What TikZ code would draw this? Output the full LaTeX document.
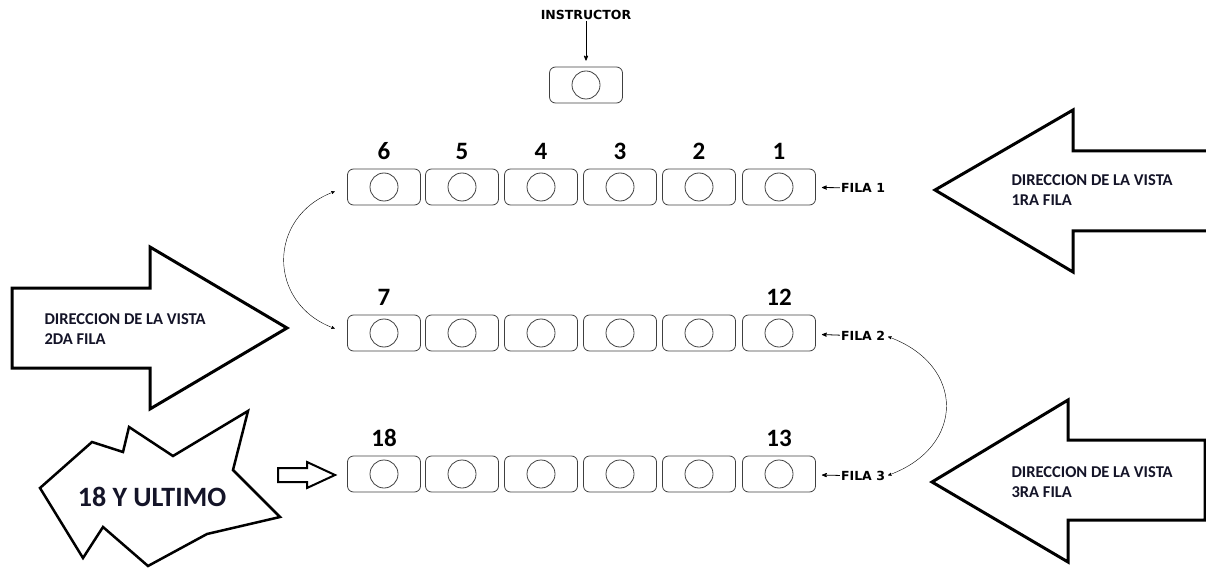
\documentclass[tikz,border=0pt]{standalone}
\usepackage{fontspec}
\setmainfont{Carlito}
\newfontfamily\smallsans{DejaVu Sans}
\usepackage{tikz}
\usetikzlibrary{arrows,positioning}
\definecolor{ink}{RGB}{20,20,40}

\begin{document}
\begin{tikzpicture}
[x=1pt,y=-1pt,>=stealth',
seat/.style={draw=black!75,thick,rounded corners=6pt,minimum width=73pt,minimum height=36pt,inner sep=0pt,
	path picture={\draw[black!75,thick] (path picture bounding box.center) circle (14pt);}},
num/.style={font=\fontsize{25}{27}\selectfont\bfseries,inner sep=1pt},
fila/.style={font=\smallsans\fontsize{12.5}{14}\selectfont\bfseries,inner sep=1pt},
big/.style={draw=black,line width=3pt,line join=miter,fill=white},
vista/.style={font=\fontsize{16.5}{20}\selectfont\bfseries,text=ink,align=left,anchor=west}]
\clip (0,0) rectangle (1206,569);
\node[fila] (inst) at (586,15) {INSTRUCTOR};
\node[seat] (prof) at (586,85) {};
\draw[->,thick,shorten >=6pt] (inst) -- (prof);
\foreach \x [count=\i] in {779,699,620,541,462,384}{
	\pgfmathtruncatemacro\j{13-\i}
	\pgfmathtruncatemacro\k{12+\i}
	\node[seat] (s\i) at (\x,187) {};
	\node[seat] (s\j) at (\x,333) {};
	\node[seat] (s\k) at (\x,474) {};
}
\foreach \n in {1,...,7,12,13,18}
	\node[num,above=8pt of s\n] (n\n) {\n};
\node[fila] (f1) at (863,188) {FILA 1};
\node[fila] (f2) at (863,336) {FILA 2};
\node[fila] (f3) at (863,476) {FILA 3};
\draw[->,thick,shorten >=6pt] (f1) -- (s1);
\draw[->,thick,shorten >=6pt] (f2) -- (s12);
\draw[->,thick,shorten >=6pt] (f3) -- (s13);
\draw[<->,shorten <=13pt,shorten >=13pt] (s6.west) to[out=200,in=160,looseness=1.5] (s7.west);
\draw[<->,shorten <=2pt,shorten >=2pt] (f2.east) to[out=-20,in=20,looseness=1.55] (f3.east);
\draw[big] (1212,151) -- (1073,151) -- (1073,110) -- (935,190) -- (1073,272) -- (1073,231) -- (1212,231);
\node[vista] (v1) at (1008,190) {DIRECCION DE LA VISTA\\1RA FILA};
\draw[big] (12,288) -- (150,288) -- (150,247) -- (287,328) -- (150,409) -- (150,368) -- (12,368) -- cycle;
\node[vista] (v2) at (41,329) {DIRECCION DE LA VISTA\\2DA FILA};
\draw[big] (1205,440) -- (1068,440) -- (1068,400) -- (932,482) -- (1068,562) -- (1068,520) -- (1205,520) -- cycle;
\node[vista] (v3) at (1008,482) {DIRECCION DE LA VISTA\\3RA FILA};
\draw[big,line width=2.5pt] (40,488) -- (92,442) -- (123,452) -- (129,427) -- (173,456) -- (248,411) -- (233,470)
	-- (280,517) -- (207,534) -- (148,566) -- (103,527) -- (83,558) -- cycle;
\node[font=\fontsize{28}{32}\selectfont\bfseries,text=ink] (last) at (152,497) {18 Y ULTIMO};
\draw[line width=2pt,line join=miter] (278,468) -- (307,468) -- (307,462) -- (335,475) -- (307,488) -- (307,482) -- (278,482) -- cycle;
\end{tikzpicture}
\end{document}
